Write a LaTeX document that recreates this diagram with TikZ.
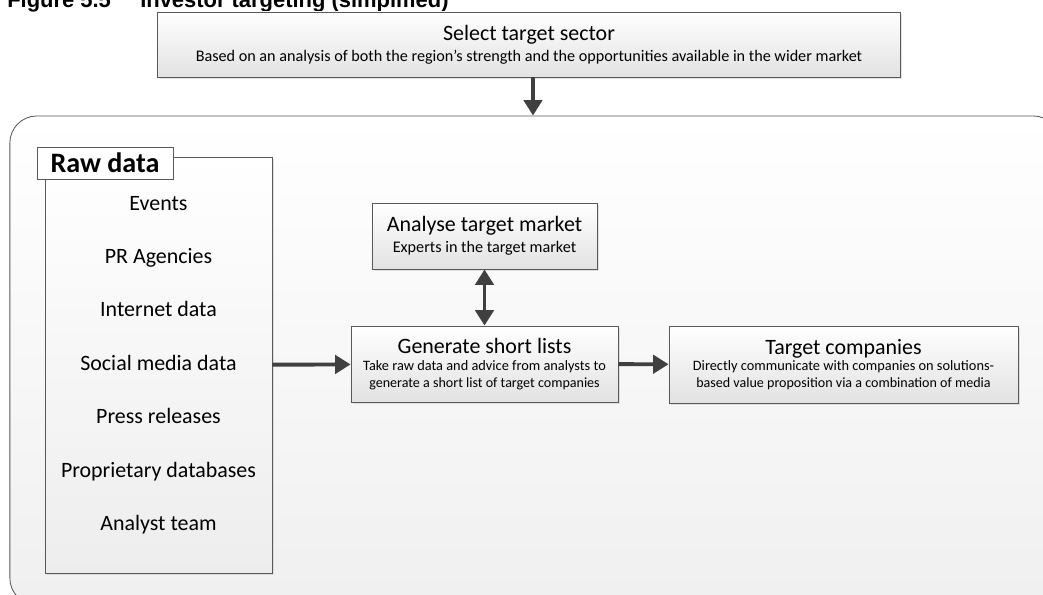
\documentclass[tikz,border=0pt]{standalone}
\usepackage{fontspec}
\setmainfont{Carlito}
\newfontfamily\arialfont{Liberation Sans}
\usepackage{xcolor}
\usetikzlibrary{arrows.meta, positioning, shadows}

\definecolor{linegray}{HTML}{595959}
\definecolor{arrowgray}{HTML}{404040}
\definecolor{shadegray}{HTML}{E2E2E2}

\newcommand{\bigtxt}{\fontsize{15.6}{18}\selectfont}
\newcommand{\subtxt}{\fontsize{11.5}{14.2}\selectfont}
\newcommand{\smalltxt}{\fontsize{10.2}{14}\selectfont}

\begin{document}
\begin{tikzpicture}[
  x=0.025cm, y=-0.025cm,
  block/.style={draw=linegray, line width=0.6pt, rectangle, align=center, inner sep=0pt,
    top color=white, bottom color=shadegray,
    drop shadow={shadow xshift=1.5pt, shadow yshift=-1.5pt, fill=black!22}},
  item/.style={font=\bigtxt, text height=11pt, text depth=3.5pt, inner sep=0pt},
  arr/.style={-{Triangle[width=13pt,length=11pt]}, line width=2.8pt, draw=arrowgray},
  dblarr/.style={{Triangle[width=13pt,length=11pt]}-{Triangle[width=13pt,length=11pt]}, line width=2.8pt, draw=arrowgray}
]
\useasboundingbox (0,0) rectangle (1043,594);
\clip (0,0) rectangle (1043,594);

% caption, cut at the top edge
\node[anchor=base west, inner sep=0pt, font=\arialfont\bfseries\fontsize{15.6}{18}\selectfont] (fignum) at (7,7) {Figure 5.5};
\node[anchor=base west, inner sep=0pt, font=\arialfont\bfseries\fontsize{15.6}{18}\selectfont] (figttl) at (140,7) {Investor targeting (simplified)};

\node[block, minimum width=18.55cm, minimum height=1.625cm] (sel) at (529,44.5)
  {\bigtxt Select target sector\\[2.8pt]\subtxt Based on an analysis of both the region’s strength and the opportunities available in the wider market};

% big frame
\node[draw=linegray, line width=0.6pt, rounded corners=0.675cm, minimum width=26.25cm, minimum height=12.225cm,
  top color=white, bottom color=black!6, inner sep=0pt] (frame) at (535,360.5) {};

% raw data column
\node[block, bottom color=black!7, minimum width=5.675cm, minimum height=10.4cm] (raw) at (158.5,365) {};
\node[draw=linegray, line width=0.6pt, fill=white, minimum width=3.4cm, minimum height=0.8cm, inner sep=0pt,
  font=\fontsize{20}{24}\selectfont\bfseries] (rawlbl) at (105,163) {Raw data};
\node[item] (ev) at (158.5,205) {Events};
\node[item] (pr) at (158.5,258) {PR Agencies};
\node[item] (inet) at (158.5,311) {Internet data};
\node[item] (soc) at (158.5,365) {Social media data};
\node[item] (press) at (158.5,418) {Press releases};
\node[item] (prop) at (158.5,472) {Proprietary databases};
\node[item] (team) at (158.5,525) {Analyst team};

\node[block, minimum width=5.625cm, minimum height=1.65cm] (ana) at (484.5,236)
  {\bigtxt Analyse target market\\[2.8pt]\subtxt Experts in the target market};
\node[block, minimum width=6.675cm, minimum height=1.9cm] (gen) at (484.5,364)
  {\bigtxt Generate short lists\\\smalltxt Take raw data and advice from analysts to\\generate a short list of target companies};
\node[block, minimum width=8.725cm, minimum height=1.925cm] (tgt) at (843.5,364.5)
  {\bigtxt Target companies\\\smalltxt Directly communicate with companies on solutions-\\based value proposition via a combination of media};

\draw[arr] ([xshift=0.1cm]sel.south) -- ([xshift=0.1cm]sel.south |- frame.north);
\draw[arr] (raw) -- (gen);
\draw[dblarr] (ana) -- (gen);
\draw[arr] (gen) -- (tgt);
\end{tikzpicture}
\end{document}
